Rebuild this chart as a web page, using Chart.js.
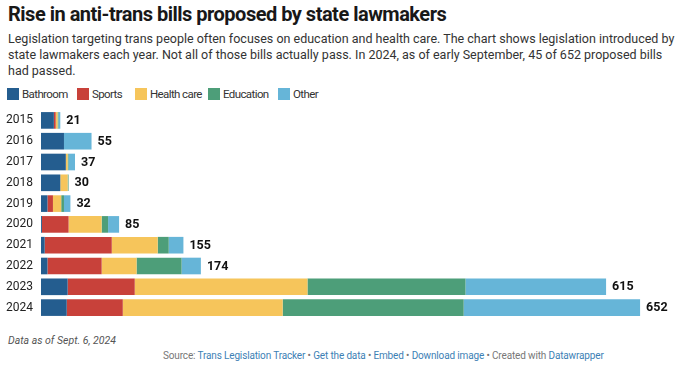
<!DOCTYPE html>
<html>
<head>
<meta charset="utf-8">
<script src="https://cdn.jsdelivr.net/npm/chart.js@4.4.1/dist/chart.umd.min.js"></script>
<style>
  html, body { margin: 0; padding: 0; background: #fff; }
  body { width: 680px; height: 373px; position: relative; overflow: hidden; font-family: Roboto, "Noto Sans", sans-serif; color: #333; }
  h1 { position: absolute; left: 8px; top: 2px; margin: 0; font-size: 20px; font-weight: 700; color: #181818; letter-spacing: -0.5px; }
  .sub { position: absolute; left: 8px; top: 31px; width: 672px; font-size: 12.5px; line-height: 16px; color: #333; }
  .legend { position: absolute; left: 0; top: 88px; width: 400px; height: 14px; font-size: 11.5px; letter-spacing: -0.6px; color: #333; }
  .legend span { position: absolute; top: 0; display: flex; align-items: center; height: 12px; white-space: nowrap; }
  .legend i { display: inline-block; width: 12px; height: 12px; margin-right: 3px; }
  #wrap { position: absolute; left: 0; top: 110px; width: 680px; height: 208px; }
  .note { position: absolute; left: 8px; top: 334px; font-size: 10.5px; font-style: italic; color: #555; }
  .src { position: absolute; left: 163px; top: 350px; font-size: 10px; letter-spacing: -0.15px; color: #777; }
  .src a { color: #3d7fb5; text-decoration: none; }
</style>
</head>
<body>
<h1>Rise in anti-trans bills proposed by state lawmakers</h1>
<div class="sub">Legislation targeting trans people often focuses on education and health care. The chart shows legislation introduced by state lawmakers each year. Not all of those bills actually pass. In 2024, as of early September, 45 of 652 proposed bills had passed.</div>
<div class="legend" id="legend"></div>
<div id="wrap"><canvas id="chart"></canvas></div>
<div class="note">Data as of Sept. 6, 2024</div>
<div class="src">Source: <a>Trans Legislation Tracker</a> • <a>Get the data</a> • <a>Embed</a> • <a>Download image</a> • Created with <a>Datawrapper</a></div>
<script>
// data
const years = ['2015', '2016', '2017', '2018', '2019', '2020', '2021', '2022', '2023', '2024'];
const bathroom  = [14, 25, 27, 21, 7, 1, 4, 7, 29, 28];
const sports    = [2, 0, 0, 0, 6, 29, 73, 59, 73, 61];
const healthCare = [2, 0, 2, 8, 9, 36, 50, 38, 188, 174];
const education = [1, 0, 1, 1, 3, 7, 12, 49, 172, 197];
const other     = [2, 30, 7, 0, 7, 12, 16, 21, 153, 192];
const totals    = [21, 55, 37, 30, 32, 85, 155, 174, 615, 652];

const seriesNames = ['Bathroom', 'Sports', 'Health care', 'Education', 'Other'];
const seriesData = [bathroom, sports, healthCare, education, other];
const colors = ['#245d8f', '#c8413a', '#f6c55b', '#4d9e79', '#66b5d8'];

// legend (item x positions taken from the reference layout)
const legendLeft = [7, 77, 135, 208, 278];
const legend = document.getElementById('legend');
seriesNames.forEach((name, i) => {
  const s = document.createElement('span');
  s.style.left = legendLeft[i] + 'px';
  s.innerHTML = `<i style="background:${colors[i]}"></i>${name}`;
  legend.appendChild(s);
});

// total labels at bar ends
const totalLabels = {
  id: 'totalLabels',
  afterDatasetsDraw(chart) {
    const ctx = chart.ctx;
    const x = chart.scales.x, y = chart.scales.y;
    ctx.save();
    ctx.font = 'bold 12.5px Roboto';
    ctx.fillStyle = '#111';
    ctx.textBaseline = 'middle';
    totals.forEach((t, i) => {
      ctx.fillText(t, x.getPixelForValue(t) + 6, y.getPixelForValue(i) + 0.5);
    });
    ctx.restore();
  }
};

new Chart(document.getElementById('chart'), {
  type: 'bar',
  data: {
    labels: years,
    datasets: seriesData.map((d, i) => ({
      label: seriesNames[i],
      data: d,
      backgroundColor: colors[i],
      borderWidth: 0,
      categoryPercentage: 1,
      barPercentage: 0.8
    }))
  },
  options: {
    indexAxis: 'y',
    responsive: true,
    maintainAspectRatio: false,
    animation: false,
    layout: { padding: { left: 0, right: 5, top: 0, bottom: 0 } },
    plugins: { legend: { display: false }, tooltip: { enabled: false } },
    scales: {
      x: { stacked: true, display: false, min: 0, max: 690 },
      y: {
        stacked: true,
        grid: { display: false, drawTicks: false },
        border: { display: false },
        ticks: { color: '#222', font: { family: 'Roboto', size: 12 }, padding: 8 },
        afterFit(scale) {
          scale.width = 41;
          scale.paddingTop = 0;
          scale.paddingBottom = 0;
        }
      }
    }
  },
  plugins: [totalLabels]
});
</script>
</body>
</html>
